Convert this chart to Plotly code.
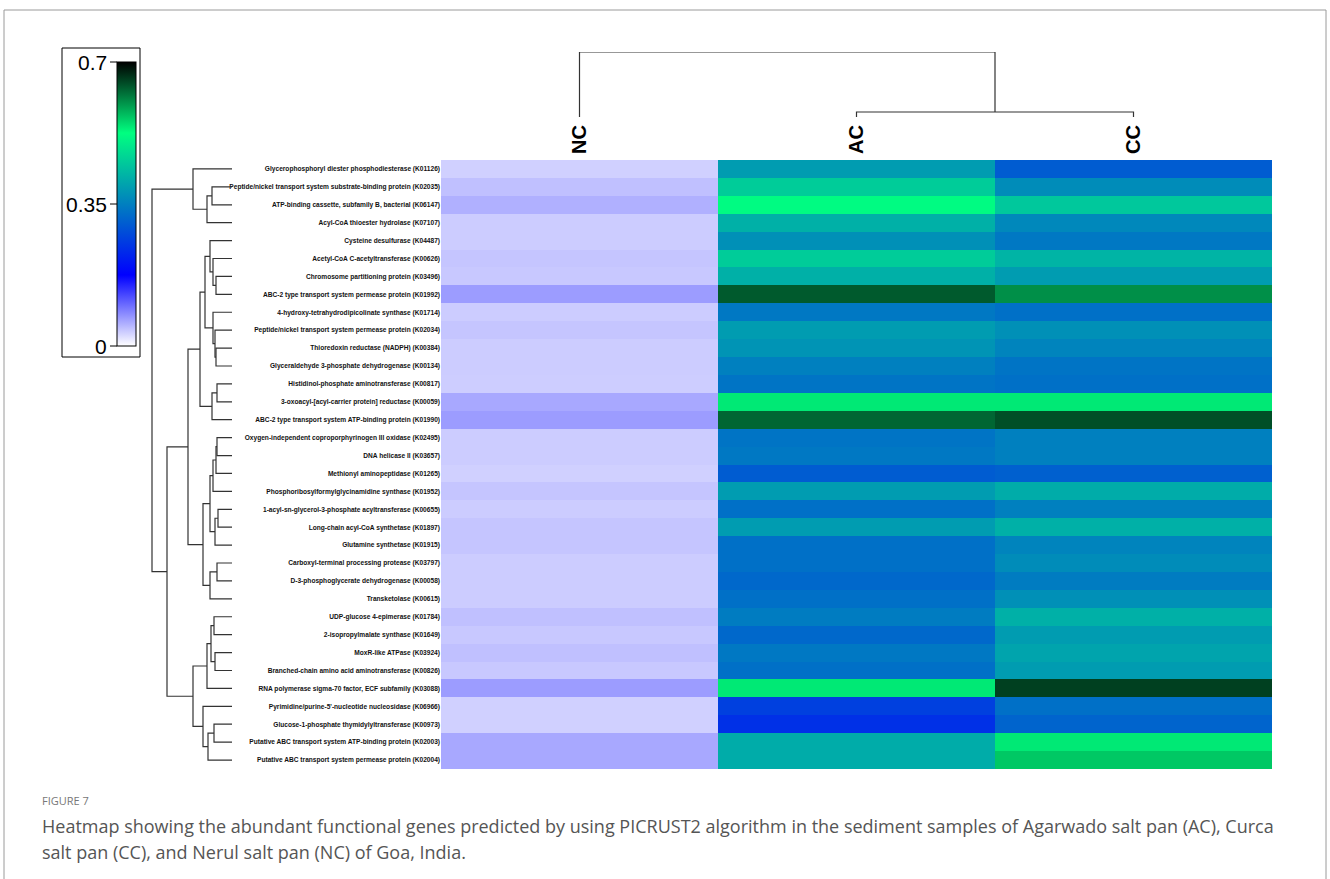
import plotly.graph_objects as go

W, H = 1330, 879

genes = [
    "Glycerophosphoryl diester phosphodiesterase (K01126)",
    "Peptide/nickel transport system substrate-binding protein (K02035)",
    "ATP-binding cassette, subfamily B, bacterial (K06147)",
    "Acyl-CoA thioester hydrolase (K07107)",
    "Cysteine desulfurase (K04487)",
    "Acetyl-CoA C-acetyltransferase (K00626)",
    "Chromosome partitioning protein (K03496)",
    "ABC-2 type transport system permease protein (K01992)",
    "4-hydroxy-tetrahydrodipicolinate synthase (K01714)",
    "Peptide/nickel transport system permease protein (K02034)",
    "Thioredoxin reductase (NADPH) (K00384)",
    "Glyceraldehyde 3-phosphate dehydrogenase (K00134)",
    "Histidinol-phosphate aminotransferase (K00817)",
    "3-oxoacyl-[acyl-carrier protein] reductase (K00059)",
    "ABC-2 type transport system ATP-binding protein (K01990)",
    "Oxygen-independent coproporphyrinogen III oxidase (K02495)",
    "DNA helicase II (K03657)",
    "Methionyl aminopeptidase (K01265)",
    "Phosphoribosylformylglycinamidine synthase (K01952)",
    "1-acyl-sn-glycerol-3-phosphate acyltransferase (K00655)",
    "Long-chain acyl-CoA synthetase (K01897)",
    "Glutamine synthetase (K01915)",
    "Carboxyl-terminal processing protease (K03797)",
    "D-3-phosphoglycerate dehydrogenase (K00058)",
    "Transketolase (K00615)",
    "UDP-glucose 4-epimerase (K01784)",
    "2-isopropylmalate synthase (K01649)",
    "MoxR-like ATPase (K03924)",
    "Branched-chain amino acid aminotransferase (K00826)",
    "RNA polymerase sigma-70 factor, ECF subfamily (K03088)",
    "Pyrimidine/purine-5'-nucleotide nucleosidase (K06966)",
    "Glucose-1-phosphate thymidylyltransferase (K00973)",
    "Putative ABC transport system ATP-binding protein (K02003)",
    "Putative ABC transport system permease protein (K02004)",
]

samples = ["NC", "AC", "CC"]

nc = [0.032, 0.043, 0.054, 0.035, 0.035, 0.040, 0.038, 0.068, 0.035, 0.040,
      0.035, 0.035, 0.034, 0.060, 0.068, 0.035, 0.035, 0.032, 0.040, 0.035,
      0.040, 0.040, 0.035, 0.035, 0.035, 0.043, 0.038, 0.043, 0.038, 0.068,
      0.032, 0.032, 0.060, 0.060]
ac = [0.389, 0.455, 0.520, 0.417, 0.373, 0.455, 0.417, 0.638, 0.340, 0.389,
      0.378, 0.351, 0.334, 0.540, 0.630, 0.334, 0.340, 0.301, 0.389, 0.329,
      0.389, 0.329, 0.329, 0.318, 0.329, 0.345, 0.318, 0.340, 0.329, 0.540,
      0.263, 0.241, 0.411, 0.411]
cc = [0.301, 0.367, 0.449, 0.362, 0.340, 0.422, 0.389, 0.602, 0.329, 0.373,
      0.356, 0.334, 0.329, 0.540, 0.646, 0.351, 0.351, 0.307, 0.411, 0.351,
      0.417, 0.356, 0.367, 0.345, 0.373, 0.417, 0.389, 0.400, 0.389, 0.656,
      0.329, 0.312, 0.540, 0.563]

# row dendrogram merges: (child_a, child_b, height); leaves 0..33, clusters numbered from 34
row_merges = [
    (1, 2, 20), (34, 3, 25), (0, 35, 39),          # 34, 35, 36
    (6, 7, 16), (5, 37, 19), (4, 38, 22),          # 37, 38, 39
    (10, 11, 16), (9, 40, 17), (8, 41, 19),        # 40, 41, 42
    (39, 42, 27),                                  # 43
    (12, 13, 15), (44, 14, 20),                    # 44, 45
    (43, 45, 32),                                  # 46
    (15, 16, 15), (47, 17, 16), (48, 18, 19),      # 47, 48, 49
    (19, 20, 14), (50, 21, 17),                    # 50, 51
    (49, 51, 22),                                  # 52
    (22, 23, 15), (53, 24, 22),                    # 53, 54
    (52, 54, 29),                                  # 55
    (46, 55, 44),                                  # 56
    (25, 26, 18), (27, 28, 17), (57, 58, 21), (59, 29, 25),  # 57-60
    (31, 32, 18), (61, 33, 24), (30, 62, 29),      # 61-63
    (60, 63, 39),                                  # 64
    (56, 64, 65),                                  # 65
    (36, 65, 80),                                  # 66
]
col_merges = [(1, 2, 5), (0, 3, 65)]

colorscale = [[0.0, "#ffffff"], [0.25, "#0000ff"], [0.75, "#00ff80"], [1.0, "#000000"]]


def dendro(n, merges):
    pos = {i: float(i) for i in range(n)}
    hgt = {i: 0.0 for i in range(n)}
    P, Hh = [], []
    for k, (a, b, h) in enumerate(merges):
        P += [pos[a], pos[a], pos[b], pos[b], None]
        Hh += [hgt[a], h, h, hgt[b], None]
        pos[n + k] = (pos[a] + pos[b]) / 2
        hgt[n + k] = h
    return P, Hh


def px_x(p):
    return p / W


def px_y(p):
    return 1 - p / H


z = [[nc[i], ac[i], cc[i]] for i in range(len(genes))]

fig = go.Figure()
fig.add_trace(go.Heatmap(
    z=z, x=list(range(3)), y=list(range(len(genes))),
    colorscale=colorscale, zmin=0, zmax=0.7,
    xaxis="x", yaxis="y",
    colorbar=dict(x=px_x(117), xanchor="left", y=px_y(62), yanchor="top",
                  len=284 / H, lenmode="fraction", thickness=19, thicknessmode="pixels",
                  outlinewidth=1, outlinecolor="black", xpad=0, ypad=0,
                  showticklabels=False, ticks=""),
))

rp, rh = dendro(len(genes), row_merges)
fig.add_trace(go.Scatter(x=rh, y=rp, mode="lines", xaxis="x2", yaxis="y",
                         line=dict(color="#333333", width=1.2), hoverinfo="skip",
                         showlegend=False))
cp, ch = dendro(3, col_merges)
fig.add_trace(go.Scatter(x=cp, y=ch, mode="lines", xaxis="x", yaxis="y3",
                         line=dict(color="#333333", width=1.2), hoverinfo="skip",
                         showlegend=False))

font_fam = "Liberation Sans, Arial, sans-serif"
fig.update_layout(
    width=W, height=H, margin=dict(l=0, r=0, t=0, b=0),
    paper_bgcolor="white", plot_bgcolor="white", showlegend=False,
    xaxis=dict(domain=[px_x(441), px_x(1272)], range=[-0.5, 2.5], side="top",
               showticklabels=False, ticks="",
               showgrid=False, zeroline=False, showline=False, anchor="y"),
    yaxis=dict(domain=[px_y(769), px_y(160)], range=[len(genes) - 0.5, -0.5],
               tickvals=list(range(len(genes))), ticktext=genes,
               tickfont=dict(family=font_fam, size=6.6, color="#111111", weight="bold"),
               ticks="", showgrid=False, zeroline=False, showline=False, anchor="x"),
    xaxis2=dict(domain=[px_x(150), px_x(232)], range=[82, 0], visible=False, anchor="y"),
    yaxis3=dict(domain=[px_y(117), px_y(52)], range=[0, 65], visible=False, anchor="x"),
)

shapes = [
    dict(type="rect", xref="paper", yref="paper", x0=px_x(4), x1=px_x(1326),
         y0=px_y(10), y1=px_y(890), line=dict(color="#9a9a9a", width=1)),
    dict(type="rect", xref="paper", yref="paper", x0=px_x(62), x1=px_x(140),
         y0=px_y(48), y1=px_y(357), line=dict(color="black", width=1)),
]
annotations = []
for i, s in enumerate(samples):
    annotations.append(dict(x=i, xref="x", y=px_y(156), yref="paper", text=s,
                            textangle=-90, showarrow=False, xanchor="center", yanchor="bottom",
                            font=dict(family=font_fam, size=20, color="black", weight="bold")))

cb_ticks = [(0.7, "0.7"), (0.35, "0.35"), (0.0, "0")]
for v, t in cb_ticks:
    ypix = 346 - v / 0.7 * 284
    shapes.append(dict(type="line", xref="paper", yref="paper", x0=px_x(110), x1=px_x(117),
                       y0=px_y(ypix), y1=px_y(ypix), line=dict(color="black", width=1)))
    annotations.append(dict(x=px_x(109), y=px_y(ypix), xref="paper", yref="paper",
                            text=t, showarrow=False, xanchor="right", yanchor="middle",
                            font=dict(family=font_fam, size=21, color="black")))

cap_font = dict(family="Open Sans, sans-serif", size=18, color="#555555")
annotations.append(dict(x=px_x(40), y=px_y(800), xref="paper", yref="paper",
                        text="FIGURE 7", showarrow=False, xanchor="left", yanchor="middle",
                        font=dict(family="Open Sans, sans-serif", size=11, color="#777777")))
annotations.append(dict(x=px_x(40), y=px_y(826), xref="paper", yref="paper",
                        text="Heatmap showing the abundant functional genes predicted by using PICRUST2 algorithm in the sediment samples of Agarwado salt pan (AC), Curca",
                        showarrow=False, xanchor="left", yanchor="middle", font=cap_font))
annotations.append(dict(x=px_x(40), y=px_y(852), xref="paper", yref="paper",
                        text="salt pan (CC), and Nerul salt pan (NC) of Goa, India.",
                        showarrow=False, xanchor="left", yanchor="middle", font=cap_font))

fig.update_layout(shapes=shapes, annotations=annotations)
fig.write_html("out.html", config={"displayModeBar": False},
               post_script="document.body.style.margin='0';document.body.style.overflow='hidden';")
